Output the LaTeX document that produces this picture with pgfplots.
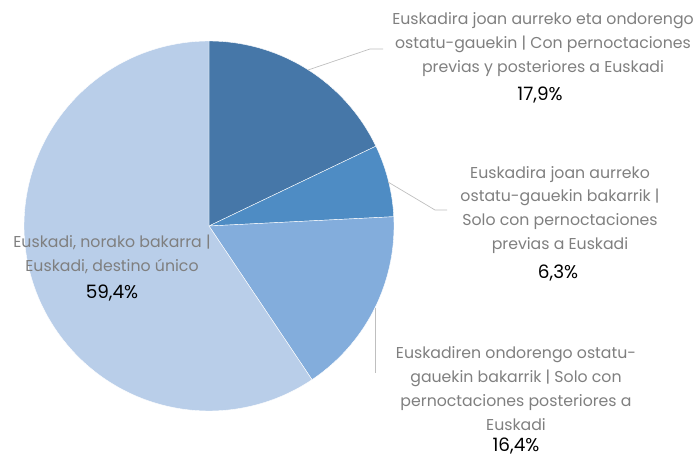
\documentclass[border=0pt]{standalone}
\usepackage{pgfplots}
\pgfplotsset{compat=1.18}
\usepgfplotslibrary{polar}
\usepackage{fontspec}
\setmainfont{Poppins}
\definecolor{cA}{HTML}{4677A8}
\definecolor{cB}{HTML}{4E8CC4}
\definecolor{cC}{HTML}{83ADDC}
\definecolor{cD}{HTML}{B9CEE9}
\definecolor{lbl}{HTML}{7F7F7F}
\definecolor{lead}{HTML}{BFBFBF}
% shares (%)
\def\vA{17.9}\def\vB{6.3}\def\vC{16.4}\def\vD{59.4}
\pgfmathsetmacro{\aA}{90}
\pgfmathsetmacro{\aB}{\aA-3.6*\vA}
\pgfmathsetmacro{\aC}{\aB-3.6*\vB}
\pgfmathsetmacro{\aD}{\aC-3.6*\vC}
\pgfmathsetmacro{\aE}{\aD-3.6*\vD}
\begin{document}
\begin{tikzpicture}
\path[use as bounding box] (0,0) rectangle (699bp,457bp);
\begin{polaraxis}[
  at={(209bp,231bp)}, anchor=center,
  scale only axis, width=370bp, height=370bp,
  hide axis, ymin=0, ymax=1, xmin=0, xmax=360,
  clip=false]
\addplot[fill=cA, draw=white, line width=0.4pt, domain=\aB:\aA, samples=80] {1} -- (axis cs:0,0) -- cycle;
\addplot[fill=cB, draw=white, line width=0.4pt, domain=\aC:\aB, samples=40] {1} -- (axis cs:0,0) -- cycle;
\addplot[fill=cC, draw=white, line width=0.4pt, domain=\aD:\aC, samples=80] {1} -- (axis cs:0,0) -- cycle;
\addplot[fill=cD, draw=white, line width=0.4pt, domain=\aE:\aD, samples=200] {1} -- (axis cs:0,0) -- cycle;
\end{polaraxis}
\draw[lead, line width=0.7pt] (308bp,387bp) -- (370bp,408bp) -- (383bp,408bp);
\draw[lead, line width=0.7pt] (388bp,275bp) -- (435bp,247bp) -- (447bp,247bp);
\draw[lead, line width=0.7pt] (375bp,149bp) -- (375bp,84bp);
\tikzset{lab/.style={align=center, font=\fontsize{15.8}{24}\selectfont, text=lbl, inner sep=0pt},
         pct/.style={font=\fontsize{18.5}{22}\selectfont, text=black, inner sep=0pt}}
\node[lab] at (543bp,412.7bp) {Euskadira joan aurreko eta ondorengo\\ostatu-gauekin | Con pernoctaciones\\previas y posteriores a Euskadi};
\node[pct] at (540bp,362bp) {17,9\%};
\node[lab] at (560bp,247bp) {Euskadira joan aurreko\\ostatu-gauekin bakarrik |\\Solo con pernoctaciones\\previas a Euskadi};
\node[pct] at (558bp,184bp) {6,3\%};
\node[lab] at (516bp,68.5bp) {Euskadiren ondorengo ostatu-\\gauekin bakarrik | Solo con\\pernoctaciones posteriores a\\Euskadi};
\node[pct] at (516bp,11bp) {16,4\%};
\node[lab] at (112bp,203bp) {Euskadi, norako bakarra |\\Euskadi, destino único};
\node[pct] at (112bp,164bp) {59,4\%};
\end{tikzpicture}
\end{document}
